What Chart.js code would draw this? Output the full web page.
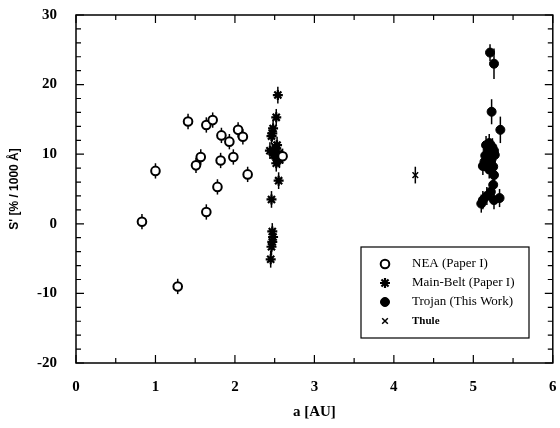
<!DOCTYPE html>
<html>
<head>
<meta charset="utf-8">
<script src="https://cdn.jsdelivr.net/npm/chart.js@4.4.0/dist/chart.umd.min.js"></script>
<style>
  html, body { margin: 0; padding: 0; background: #fff; }
</style>
</head>
<body>
<canvas id="chart" width="560" height="428"></canvas>
<script>
// NEA (Paper I)
const neaA   = [0.83, 1.00, 1.28, 1.41, 1.51, 1.57, 1.64, 1.64, 1.72, 1.78, 1.82, 1.83, 1.93, 1.98, 2.04, 2.10, 2.16, 2.60];
const neaS   = [0.3, 7.6, -9.0, 14.7, 8.4, 9.6, 14.2, 1.7, 14.9, 5.3, 9.1, 12.7, 11.8, 9.6, 13.5, 12.5, 7.1, 9.7];
const neaErr = [1.1, 1.1, 1.1, 1.1, 1.1, 1.1, 1.1, 1.1, 1.1, 1.1, 1.1, 1.1, 1.1, 1.1, 1.1, 1.1, 1.1, 1.1];

// Main-Belt (Paper I)
const mbA   = [2.54, 2.52, 2.48, 2.47, 2.46, 2.44, 2.47, 2.50, 2.52, 2.53, 2.55, 2.49, 2.54, 2.56, 2.52, 2.55, 2.46, 2.47, 2.48, 2.47, 2.46, 2.45];
const mbS   = [18.5, 15.3, 13.7, 13.0, 12.6, 10.5, 10.4, 10.1, 10.8, 11.3, 10.1, 9.9, 9.4, 9.2, 8.7, 6.2, 3.5, -1.1, -1.9, -2.6, -3.3, -5.1];
const mbErr = [1.2, 1.2, 1.2, 1.2, 1.2, 1.2, 1.2, 1.2, 1.2, 1.2, 1.2, 1.2, 1.2, 1.2, 1.2, 1.2, 1.2, 1.2, 1.2, 1.2, 1.2, 1.2];

// Trojan (This Work)
const trA   = [5.21, 5.26, 5.23, 5.34, 5.16, 5.20, 5.24, 5.18, 5.22, 5.26, 5.15, 5.19, 5.23, 5.27, 5.14, 5.18, 5.22, 5.12, 5.25, 5.20, 5.26, 5.25, 5.22, 5.17, 5.12, 5.10, 5.26, 5.33];
const trS   = [24.6, 23.0, 16.1, 13.5, 11.3, 11.6, 11.0, 10.6, 10.3, 10.5, 9.8, 9.5, 9.3, 9.9, 8.9, 8.5, 8.8, 8.3, 8.2, 7.8, 7.0, 5.6, 4.6, 4.0, 3.4, 2.9, 3.4, 3.7];
const trErr = [1.2, 2.2, 1.8, 1.9, 1.3, 1.3, 1.3, 1.3, 1.3, 1.3, 1.3, 1.3, 1.3, 1.3, 1.3, 1.3, 1.3, 1.3, 1.3, 1.3, 1.3, 1.3, 1.3, 1.3, 1.3, 1.3, 1.3, 1.3];

// Thule
const thA   = [4.27];
const thS   = [7.0];
const thErr = [1.2];

const xTicks = [0, 1, 2, 3, 4, 5, 6];
const yTicks = [-20, -10, 0, 10, 20, 30];

const toPoints = (a, s) => a.map((v, i) => ({ x: v, y: s[i] }));

// vertical error bars behind the markers
const errorBars = {
    id: 'errorBars',
    beforeDatasetsDraw(chart) {
        const ctx = chart.ctx;
        const yScale = chart.scales.y;
        ctx.save();
        ctx.strokeStyle = '#000';
        ctx.lineWidth = 1.5;
        chart.data.datasets.forEach((ds, i) => {
            const meta = chart.getDatasetMeta(i);
            meta.data.forEach((pt, j) => {
                const v = ds.data[j].y;
                const e = ds.errors[j];
                ctx.beginPath();
                ctx.moveTo(pt.x, yScale.getPixelForValue(v - e));
                ctx.lineTo(pt.x, yScale.getPixelForValue(v + e));
                ctx.stroke();
            });
        });
        ctx.restore();
    }
};

// box around the plot with inward ticks on all four sides
const frame = {
    id: 'frame',
    afterDraw(chart) {
        const ctx = chart.ctx;
        const { left, right, top, bottom } = chart.chartArea;
        const xs = chart.scales.x, ys = chart.scales.y;
        ctx.save();
        ctx.strokeStyle = '#000';
        ctx.lineWidth = 1.5;
        ctx.strokeRect(left, top, right - left, bottom - top);
        ctx.lineWidth = 1.2;
        ctx.beginPath();
        for (let v = xs.min; v <= xs.max + 1e-9; v += 0.5) {
            const px = xs.getPixelForValue(v);
            const len = Math.abs(v - Math.round(v)) < 1e-6 ? 8 : 5;
            ctx.moveTo(px, bottom); ctx.lineTo(px, bottom - len);
            ctx.moveTo(px, top); ctx.lineTo(px, top + len);
        }
        for (let v = ys.min; v <= ys.max + 1e-9; v += 2) {
            const py = ys.getPixelForValue(v);
            const len = Math.abs(v % 10) < 1e-6 ? 8 : 5;
            ctx.moveTo(left, py); ctx.lineTo(left + len, py);
            ctx.moveTo(right, py); ctx.lineTo(right - len, py);
        }
        ctx.stroke();
        ctx.restore();
    }
};

// legend box in the lower right of the plot
const boxLegend = {
    id: 'boxLegend',
    afterDraw(chart) {
        const ctx = chart.ctx;
        const bx = 361, by = 247, bw = 168, bh = 91;
        ctx.save();
        ctx.fillStyle = '#fff';
        ctx.fillRect(bx, by, bw, bh);
        ctx.strokeStyle = '#000';
        ctx.lineWidth = 1.2;
        ctx.strokeRect(bx, by, bw, bh);
        chart.data.datasets.forEach((ds, i) => {
            const y = by + 17 + i * 19;
            ctx.strokeStyle = '#000';
            ctx.fillStyle = ds.backgroundColor;
            ctx.lineWidth = ds.borderWidth;
            Chart.helpers.drawPoint(ctx, {
                pointStyle: ds.pointStyle,
                radius: ds.pointRadius,
                borderWidth: ds.borderWidth,
                rotation: 0
            }, bx + 24, y);
            ctx.fillStyle = '#000';
            ctx.textBaseline = 'middle';
            ctx.textAlign = 'left';
            ctx.font = ds.label === 'Thule' ? "bold 11px 'Liberation Serif'" : "13px 'Liberation Serif'";
            ctx.fillText(ds.label, bx + 51, y);
        });
        ctx.restore();
    }
};

new Chart(document.getElementById('chart'), {
    type: 'scatter',
    data: {
        datasets: [
            { label: 'NEA (Paper I)', data: toPoints(neaA, neaS), errors: neaErr,
              pointStyle: 'circle', pointRadius: 4.3, borderWidth: 2,
              borderColor: '#000', backgroundColor: '#fff' },
            { label: 'Main-Belt (Paper I)', data: toPoints(mbA, mbS), errors: mbErr,
              pointStyle: 'star', pointRadius: 5, borderWidth: 2.2,
              borderColor: '#000', backgroundColor: '#000' },
            { label: 'Trojan (This Work)', data: toPoints(trA, trS), errors: trErr,
              pointStyle: 'circle', pointRadius: 4.5, borderWidth: 1,
              borderColor: '#000', backgroundColor: '#000' },
            { label: 'Thule', data: toPoints(thA, thS), errors: thErr,
              pointStyle: 'crossRot', pointRadius: 4, borderWidth: 1.5,
              borderColor: '#000', backgroundColor: '#000' }
        ]
    },
    options: {
        responsive: false,
        animation: false,
        layout: { padding: { top: 15, right: 6, left: 0, bottom: 0 } },
        plugins: {
            legend: { display: false },
            tooltip: { enabled: false }
        },
        scales: {
            x: {
                type: 'linear',
                min: xTicks[0],
                max: xTicks[xTicks.length - 1],
                afterBuildTicks: (s) => { s.ticks = xTicks.map(v => ({ value: v })); },
                afterFit: (s) => { s.height = 65; s.paddingLeft = 0; s.paddingRight = 0; },
                grid: { display: false, drawTicks: false },
                border: { display: false },
                ticks: { color: '#000', padding: 15, font: { family: "'Liberation Serif'", size: 15, weight: 'bold' } },
                title: { display: true, text: 'a [AU]', color: '#000', padding: { top: 0, bottom: 7 },
                         font: { family: "'Liberation Serif'", size: 15, weight: 'bold' } }
            },
            y: {
                type: 'linear',
                min: yTicks[0],
                max: yTicks[yTicks.length - 1],
                afterBuildTicks: (s) => { s.ticks = yTicks.map(v => ({ value: v })); },
                afterFit: (s) => { s.width = 76; s.paddingTop = 0; s.paddingBottom = 0; },
                grid: { display: false, drawTicks: false },
                border: { display: false },
                ticks: { color: '#000', padding: 19, font: { family: "'Liberation Serif'", size: 15, weight: 'bold' } },
                title: { display: true, text: "S' [% / 1000 Å]", color: '#000', padding: { top: 7, bottom: 0 },
                         font: { family: "'Liberation Sans'", size: 12, weight: 'bold' } }
            }
        }
    },
    plugins: [errorBars, frame, boxLegend]
});
</script>
</body>
</html>
